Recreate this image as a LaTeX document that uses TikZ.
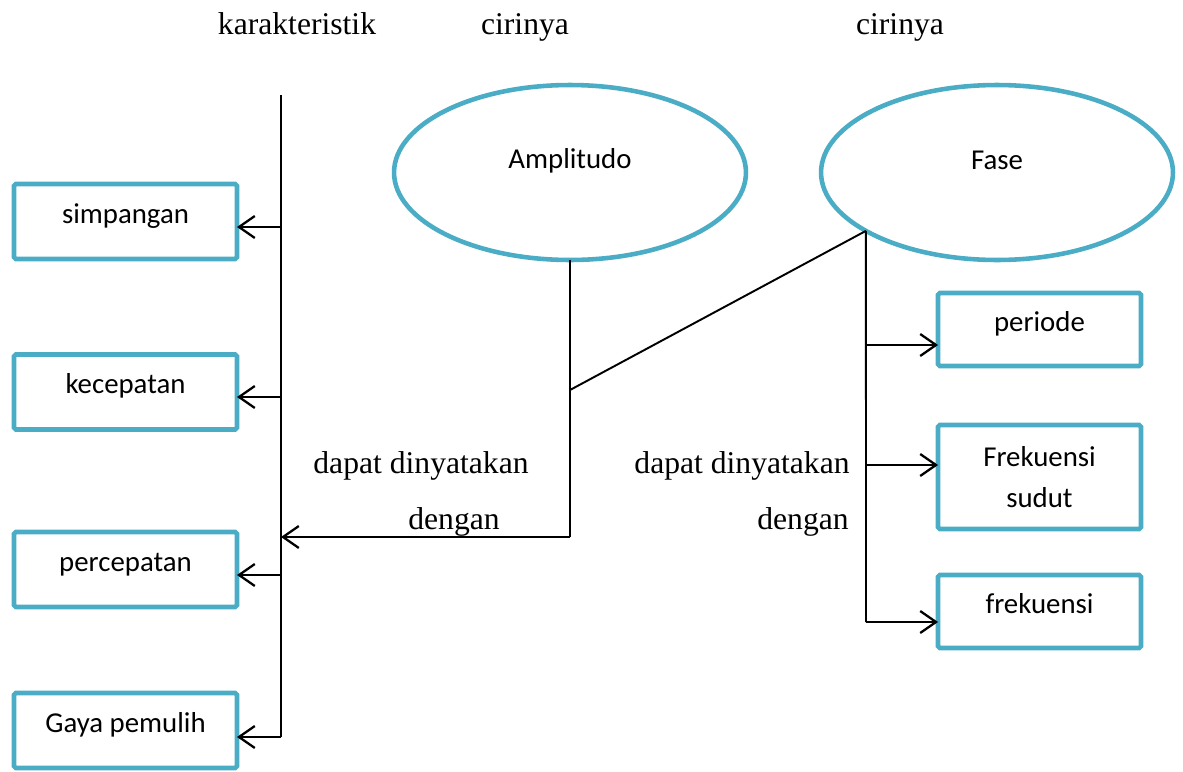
\documentclass[tikz,border=0pt]{standalone}
\usepackage{fontspec}
\setmainfont{Liberation Serif}
\newfontfamily\boxfont{Carlito}
\usetikzlibrary{shapes.geometric,arrows.meta}
\definecolor{tealline}{RGB}{75,172,198}

\begin{document}
\begin{tikzpicture}[x=0.02cm, y=-0.02cm,
  item/.style={draw=tealline, line width=2.6pt, rounded corners=1pt, minimum width=4.46cm, minimum height=1.5cm, inner sep=0pt, outer sep=0pt, align=center, font=\boxfont\fontsize{16.4}{23}\selectfont},
  oneline/.style={text height=12pt, text depth=10pt},
  oval/.style={ellipse, draw=tealline, line width=2.6pt, minimum width=7.04cm, minimum height=3.5cm, inner sep=0pt, outer sep=0pt},
  ovaltext/.style={font=\boxfont\fontsize{16.4}{20}\selectfont, yshift=0.24cm},
  caption/.style={anchor=base, font=\fontsize{18}{22}\selectfont},
  link/.style={line width=1.1pt},
  pointer/.style={link, -{Straight Barb[length=9pt,width=12.5pt,line width=1.3pt]}}]
  \useasboundingbox (0,0) rectangle (1183,771);

  % top captions
  \node[caption] (kar) at (297,34) {karakteristik};
  \node[caption] (ciri1) at (525,34) {cirinya};
  \node[caption] (ciri2) at (900,34) {cirinya};

  % left column
  \node[item, oneline] (simp) at (125.5,221.5) {simpangan};
  \node[item, oneline] (kec) at (125.5,392) {kecepatan};
  \node[item, oneline] (perc) at (125.5,569.5) {percepatan};
  \node[item, oneline] (gaya) at (125.5,730.5) {Gaya pemulih};

  % ellipses
  \node[oval, label={[ovaltext]center:Amplitudo}] (amp) at (570,172.5) {};
  \node[oval, label={[ovaltext]center:Fase}] (fase) at (997,172.5) {};

  % right column
  \node[item, oneline, minimum width=4.06cm, minimum height=1.46cm] (per) at (1039.5,329.5) {periode};
  \node[item, minimum width=4.06cm, minimum height=2.08cm] (fsud) at (1039.5,477) {Frekuensi\\sudut};
  \node[item, oneline, minimum width=4.06cm, minimum height=1.46cm] (frek) at (1039.5,611.5) {frekuensi};

  % side texts
  \node[caption] (dap1) at (421,473) {dapat dinyatakan};
  \node[caption] (deng1) at (454,529) {dengan};
  \node[caption] (dap2) at (742,473) {dapat dinyatakan};
  \node[caption] (deng2) at (803,529) {dengan};

  % left spine
  \coordinate (ltop) at (281,95);
  \coordinate (l1) at (281,227);
  \coordinate (l2) at (281,397);
  \coordinate (l3) at (281,575);
  \coordinate (l4) at (281,737);
  \draw[link] (ltop) -- (l4);
  \draw[pointer] (l1) -- (l1 -| simp.east);
  \draw[pointer] (l2) -- (l2 -| kec.east);
  \draw[pointer] (l3) -- (l3 -| perc.east);
  \draw[pointer] (l4) -- (l4 -| gaya.east);

  % amplitudo branch
  \coordinate (join) at (570,390);
  \coordinate (bend) at (570,537);
  \draw[link] (amp.south) -- (bend);
  \draw[pointer] (bend) -- (bend -| ltop);
  \draw[link] (join) -- (fase.204);

  % fase spine
  \coordinate (r1) at (866,345);
  \coordinate (r2) at (866,465);
  \coordinate (r3) at (866,622);
  \draw[link] (fase.204) -- (r3);
  \draw[pointer] (r1) -- (r1 -| per.west);
  \draw[pointer] (r2) -- (r2 -| fsud.west);
  \draw[pointer] (r3) -- (r3 -| frek.west);
\end{tikzpicture}
\end{document}
